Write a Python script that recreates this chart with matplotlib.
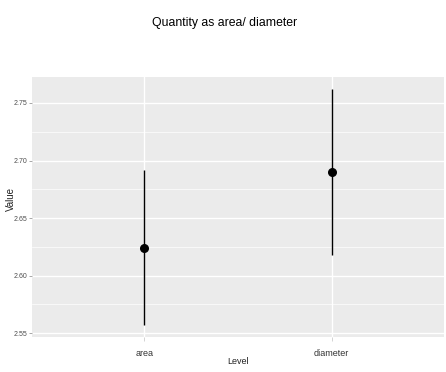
import matplotlib
matplotlib.use("Agg")
import matplotlib.pyplot as plt
from matplotlib.ticker import FixedLocator

levels = ["area", "diameter"]
means = [2.624, 2.690]
lower = [2.557, 2.618]
upper = [2.692, 2.762]
yticks = [2.55, 2.60, 2.65, 2.70, 2.75]
yminor = [2.575, 2.625, 2.675, 2.725]

plt.rcParams['font.family'] = ['Liberation Sans', 'DejaVu Sans']

fig = plt.figure(figsize=(4.46, 3.72), dpi=100)
ax_h = 337 - 77.3
ax = fig.add_axes([32/446, 35/372, 412/446, ax_h/372])
ax.set_facecolor('#EBEBEB')

x = list(range(1, len(levels) + 1))
for xi, lo, hi in zip(x, lower, upper):
    ax.vlines(xi, lo, hi, color='black', linewidth=1.0, zorder=3)
ax.scatter(x, means, s=30, color='black', zorder=4)

span = max(upper) - min(lower)
ax.set_ylim(min(lower) - 0.05*span, max(upper) + 0.05*span)
ax.set_xlim(0.4, len(levels) + 0.6)
ax.set_xticks(x)
ax.set_xticklabels(levels)
ax.set_yticks(yticks)
ax.set_yticklabels([f"{v:.2f}" for v in yticks])
ax.yaxis.set_minor_locator(FixedLocator(yminor))

ax.grid(True, which='major', color='white', linewidth=1.0)
ax.grid(True, which='minor', axis='y', color='white', linewidth=0.5)
ax.set_axisbelow(True)
for s in ax.spines.values():
    s.set_visible(False)
ax.tick_params(axis='y', which='major', color='#999999', length=2, width=0.6,
               labelcolor='#4D4D4D', labelsize=5, pad=1.5)
ax.tick_params(axis='x', which='major', color='#CCCCCC', length=3, width=0.6,
               labelcolor='#333333', labelsize=6.5, pad=6)
ax.tick_params(axis='both', which='minor', length=0)

ax.set_xlabel("Level", fontsize=6.5, color='#222222')
ax.xaxis.set_label_coords(0.5, (337 - 361.7) / ax_h)
ax.xaxis.label.set_va('center')
ax.set_ylabel("Value", fontsize=7, color='#222222')
ax.yaxis.set_label_coords((10.5 - 32) / 412, (337 - 199) / ax_h)
ax.yaxis.label.set_va('center')
fig.suptitle("Quantity as area/ diameter", fontsize=8.8, x=225/446, y=1-22.7/372, va='center')

fig.savefig("out.png", dpi=100)
